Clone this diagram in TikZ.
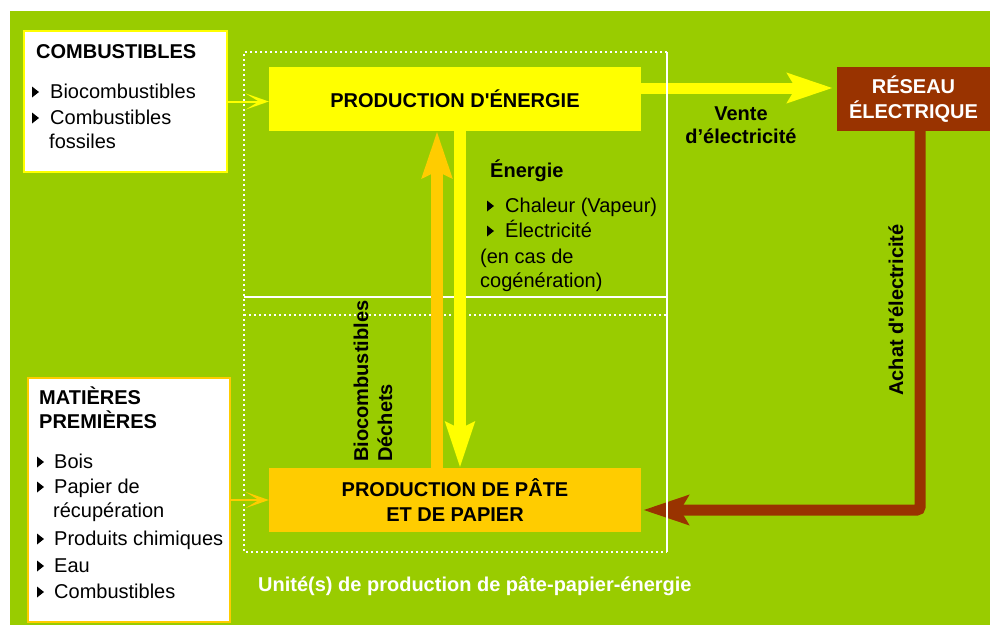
\documentclass[tikz,border=0pt]{standalone}
\usepackage{fontspec}
\setmainfont{Liberation Sans}[Ligatures=TeXOff]
\usetikzlibrary{arrows.meta}
\definecolor{bggreen}{HTML}{99CC00}
\definecolor{yel}{HTML}{FFFF00}
\definecolor{org}{HTML}{FFCC00}
\definecolor{brn}{HTML}{993300}
\newcommand{\bulletat}[2]{\fill (#1,#2-0.5) -- (#1,#2-11.5) -- (#1+7,#2-6) -- cycle;}
\begin{document}
\begin{tikzpicture}[x=1pt,y=-1pt,
  every node/.style={inner sep=0pt, font=\fontsize{20}{24}\selectfont},
  txt/.style={anchor=base west},
  bold/.style={font=\fontsize{20}{24.5}\selectfont\bfseries},
  dotline/.style={white, line width=2.3pt, dash pattern=on 2.3pt off 2.7pt},
  solidline/.style={white, line width=2pt},
  thin arrow/.style={line width=2pt, -{Stealth[length=23pt,width=16pt,inset=13pt]}},
  big arrow/.style={line width=11pt, -{Stealth[length=45pt,width=29pt,inset=8pt]}}
]
\useasboundingbox (0,0) rectangle (990,625);
\fill[bggreen] (10,11) rectangle (990,625);

% frame lines
\draw[dotline] (667,52) -- (244,52) -- (244,552) -- (667,552);
\draw[dotline] (244,315) -- (667,315);
\draw[solidline] (244,297) -- (667,297);

% input boxes
\node[draw=yel, line width=2pt, fill=white, minimum width=203pt, minimum height=141pt] (comb) at (125.5,101.5) {};
\node[draw=org, line width=2pt, fill=white, minimum width=202pt, minimum height=244pt] (mat) at (129,500) {};

\node[bold, txt] (combT) at (36,58) {COMBUSTIBLES};
\node[txt] (c1) at (50,98) {Biocombustibles};
\node[txt] (c2) at (50,124) {Combustibles};
\node[txt] (c3) at (49,148) {fossiles};
\bulletat{32}{98}
\bulletat{32}{124}

\node[bold, txt] (matT1) at (39,404) {MATIÈRES};
\node[bold, txt] (matT2) at (39,428) {PREMIÈRES};
\node[txt] (m1) at (54,468) {Bois};
\node[txt] (m2) at (54,493) {Papier de};
\node[txt] (m3) at (53,517) {récupération};
\node[txt] (m4) at (54,545) {Produits chimiques};
\node[txt] (m5) at (54,572) {Eau};
\node[txt] (m6) at (54,598) {Combustibles};
\bulletat{37}{468}
\bulletat{37}{493}
\bulletat{37}{545}
\bulletat{37}{572}
\bulletat{37}{598}

% main boxes
\node[fill=yel, minimum width=372pt, minimum height=64pt, bold] (energy) at (455,99) {PRODUCTION D'ÉNERGIE};
\node[fill=org, minimum width=372pt, minimum height=64pt, bold, align=center] (pate) at (455,500) {PRODUCTION DE PÂTE\\ET DE PAPIER};
\node[fill=brn, minimum width=153pt, minimum height=64pt, bold, align=center, text=white] (reseau) at (913.5,99) {RÉSEAU\\ÉLECTRIQUE};

% energy text
\node[bold, txt] (enT) at (490,177) {Énergie};
\node[txt] (e1) at (505,212) {Chaleur (Vapeur)};
\node[txt] (e2) at (505,237) {Électricité};
\node[txt] (e3) at (480,263) {(en cas de};
\node[txt] (e4) at (480,287) {cogénération)};
\bulletat{487}{212}
\bulletat{487}{237}

% arrows
\draw[thin arrow, yel] (comb.east) -- (comb.east -| energy.west);
\draw[thin arrow, org] (mat.east) -- (mat.east -| pate.west);
\draw[big arrow, yel, shorten >=4pt] ([yshift=11pt]energy.east) -- ([yshift=11pt]reseau.west);
\draw[line width=12pt, org, -{Stealth[length=46pt,width=29pt,inset=6pt]}] ([xshift=-18pt]pate.north) -- ([xshift=-18pt]energy.south);
\draw[line width=12pt, yel, -{Stealth[length=45pt,width=28pt,inset=6pt]}] ([xshift=5pt]energy.south) -- ([xshift=5pt]pate.north);
\draw[big arrow, brn, rounded corners=3pt, shorten >=2pt] ([xshift=6.5pt]reseau.south) |- ([yshift=-10pt]pate.east);

\draw[solidline] (667,52) -- (667,552);

% labels
\node[bold, anchor=base] (vente1) at (741,120) {Vente};
\node[bold, anchor=base] (vente2) at (741,143) {d’électricité};
\node[bold, rotate=90, anchor=base] (achat) at (903,310) {Achat d'électricité};
\node[bold, rotate=90, anchor=base west] (bio1) at (368,462) {Biocombustibles};
\node[bold, rotate=90, anchor=base west] (bio2) at (392,462) {Déchets};
\node[bold, txt, text=white] (unit) at (258,591) {Unité(s) de production de pâte-papier-énergie};
\end{tikzpicture}
\end{document}
